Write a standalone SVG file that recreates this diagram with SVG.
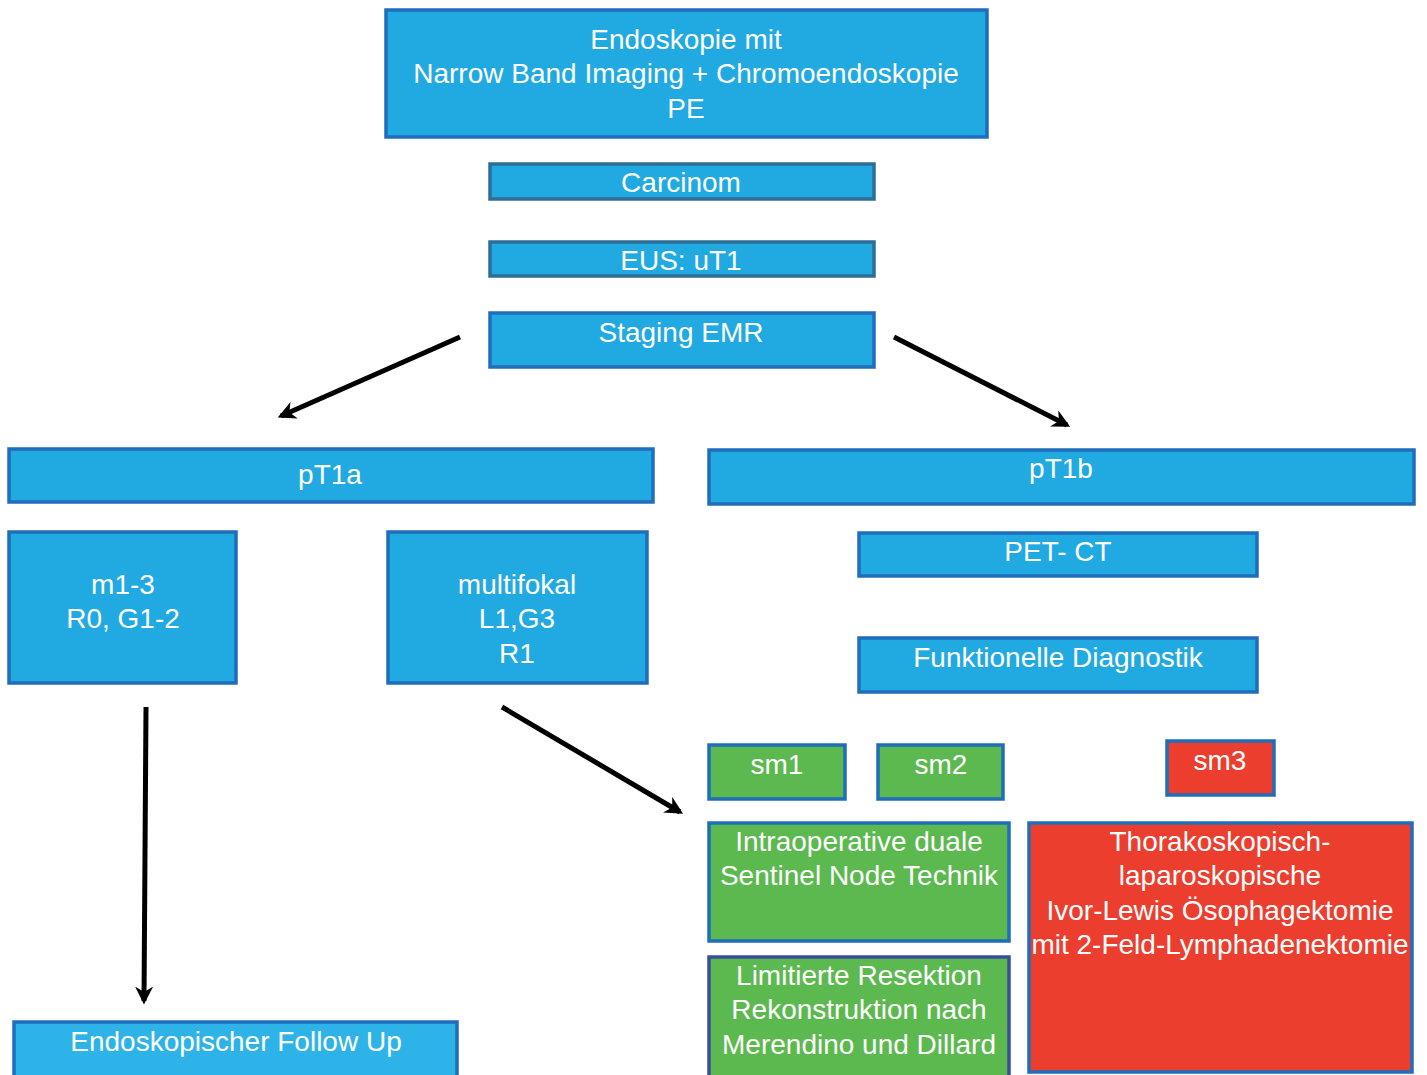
<svg xmlns="http://www.w3.org/2000/svg" width="1427" height="1075" viewBox="0 0 1427 1075">
<style>
.b{fill:#21a9e1;stroke:#1f6dbb;stroke-width:3.5}
.bg{fill:#21a9e1;stroke:#2e6e96;stroke-width:3.5}
.g{fill:#5cb94f;stroke:#1f6dbb;stroke-width:3.5}
.gn{fill:#5cb94f;stroke:#3a4f9c;stroke-width:3.5}
.r{fill:#ec3e2e;stroke:#1f6dbb;stroke-width:3.5}
.fu{fill:#2db3e8;stroke:#1f6dbb;stroke-width:3.5}
text{font-family:"Liberation Sans",Arial,sans-serif;font-size:28px;fill:#fff;text-anchor:middle}
.c line{stroke:#000;stroke-width:5;marker-end:url(#ah)}
</style>
<defs>
<marker id="ah" viewBox="0 0 10 10" refX="8" refY="5" markerWidth="3.6" markerHeight="3.6" orient="auto" markerUnits="strokeWidth">
<path d="M0,0 L10,5 L0,10 L3,5 z" fill="#000"/>
</marker>
</defs>
<rect width="1427" height="1075" fill="#fff"/>
<g id="n-endoskopie"><rect class="b" x="386" y="10" width="601" height="127"/><text x="686" y="49">Endoskopie mit</text><text x="686" y="83">Narrow Band Imaging + Chromoendoskopie</text><text x="686" y="118">PE</text></g>
<g id="n-carcinom"><rect class="bg" x="490" y="164" width="384" height="35"/><text x="681" y="192">Carcinom</text></g>
<g id="n-eus"><rect class="bg" x="490" y="242" width="384" height="34"/><text x="681" y="270">EUS: uT1</text></g>
<g id="n-staging"><rect class="b" x="490" y="313" width="384" height="54"/><text x="681" y="342">Staging EMR</text></g>
<g id="n-pt1a"><rect class="b" x="9" y="449" width="644" height="53"/><text x="330" y="484">pT1a</text></g>
<g id="n-pt1b"><rect class="b" x="709" y="450" width="705" height="54"/><text x="1061" y="478">pT1b</text></g>
<g id="n-m13"><rect class="b" x="9" y="532" width="227" height="151"/><text x="123" y="594">m1-3</text><text x="123" y="628">R0, G1-2</text></g>
<g id="n-multifokal"><rect class="b" x="388" y="532" width="259" height="151"/><text x="517" y="594">multifokal</text><text x="517" y="628">L1,G3</text><text x="517" y="663">R1</text></g>
<g id="n-petct"><rect class="b" x="859" y="533" width="398" height="43"/><text x="1058" y="561">PET- CT</text></g>
<g id="n-funktionelle"><rect class="b" x="859" y="638" width="398" height="54"/><text x="1058" y="667">Funktionelle Diagnostik</text></g>
<g id="n-sm1"><rect class="g" x="709" y="745" width="136" height="54"/><text x="777" y="774">sm1</text></g>
<g id="n-sm2"><rect class="g" x="878" y="745" width="125" height="54"/><text x="941" y="774">sm2</text></g>
<g id="n-sm3"><rect class="r" x="1167" y="741" width="107" height="54"/><text x="1220" y="770">sm3</text></g>
<g id="n-intraop"><rect class="g" x="709" y="823" width="300" height="118"/><text x="859" y="851">Intraoperative duale</text><text x="859" y="885">Sentinel Node Technik</text></g>
<g id="n-limitierte"><rect class="gn" x="709" y="957" width="300" height="125"/><text x="859" y="985">Limitierte Resektion</text><text x="859" y="1019">Rekonstruktion nach</text><text x="859" y="1054">Merendino und Dillard</text></g>
<g id="n-thorako"><rect class="r" x="1029" y="823" width="383" height="249"/><text x="1220" y="851">Thorakoskopisch-</text><text x="1220" y="885">laparoskopische</text><text x="1220" y="920">Ivor-Lewis Ösophagektomie</text><text x="1220" y="954">mit 2-Feld-Lymphadenektomie</text></g>
<g id="n-followup"><rect class="fu" x="14" y="1022" width="443" height="60"/><text x="236" y="1051">Endoskopischer Follow Up</text></g>
<g id="connectors" class="c">
<line x1="460" y1="337" x2="281" y2="416"/>
<line x1="894" y1="337" x2="1067" y2="425"/>
<line x1="146" y1="707" x2="144" y2="1001"/>
<line x1="502" y1="707" x2="680" y2="812"/>
</g>
</svg>
